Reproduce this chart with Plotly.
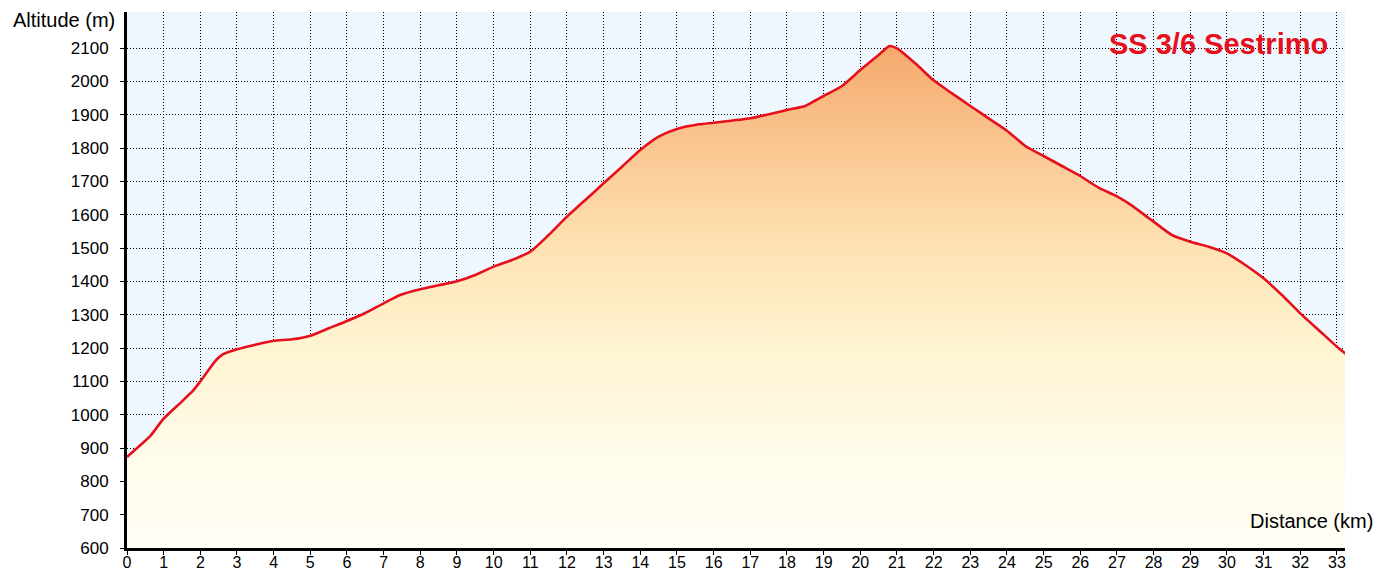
import plotly.graph_objects as go

km = [0, 0.33, 0.65, 1.0, 1.5, 1.8, 2.0, 2.2, 2.4, 2.6, 3.0, 3.5, 4.0, 4.5, 5.0, 5.5, 6.0, 6.5,
      7.0, 7.45, 8.0, 8.5, 9.0, 9.5, 10.0, 10.5, 11.0, 11.5, 12.0, 12.5, 13.0, 13.5, 14.0, 14.5,
      15.0, 15.6, 16.0, 17.0, 18.0, 18.5, 18.75, 19.0, 19.5, 20.0, 20.5, 20.8, 21.0, 21.5, 22.0,
      22.5, 23.0, 23.5, 24.0, 24.5, 25.0, 25.5, 26.0, 26.5, 27.0, 27.4, 27.8, 28.0, 28.5, 29.0,
      29.5, 30.0, 30.5, 31.0, 31.5, 32.0, 32.5, 33.0, 33.25]
altitude = [873, 905, 938, 988, 1040, 1072, 1100, 1130, 1160, 1180, 1196, 1210, 1222, 1226, 1237,
            1259, 1281, 1305, 1334, 1359, 1376, 1388, 1400, 1419, 1444, 1464, 1489, 1539, 1594,
            1644, 1694, 1744, 1794, 1834, 1857, 1871, 1876, 1889, 1914, 1926, 1941, 1956, 1986,
            2034, 2079, 2106, 2099, 2054, 2003, 1964, 1926, 1889, 1852, 1806, 1776, 1746, 1716,
            1681, 1655, 1628, 1595, 1579, 1539, 1519, 1504, 1484, 1449, 1409, 1359, 1304, 1254,
            1204, 1182]

x_ticks = list(range(0, 34))
y_ticks = list(range(600, 2101, 100))
title_text = "SS 3/6 Sestrimo"
x_title = "Distance (km)"
y_title = "Altitude (m)"

FONT = "Liberation Sans, Arial, Helvetica, sans-serif"
RED = "#e5101c"

fig = go.Figure()
fig.add_trace(go.Scatter(
    x=km, y=altitude, mode="lines",
    line=dict(color=RED, width=2.6, shape="spline", smoothing=0.6),
    fill="tozeroy",
    fillgradient=dict(
        type="vertical", start=600, stop=2110,
        colorscale=[[0.0, "rgb(255,254,246)"], [0.2, "rgb(255,251,232)"],
                    [0.4, "rgb(255,244,210)"], [0.6, "rgb(254,226,178)"],
                    [0.8, "rgb(250,198,145)"], [1.0, "rgb(245,168,108)"]]),
    hoverinfo="skip", showlegend=False,
))

axis_common = dict(
    showline=True, linecolor="black", linewidth=3, mirror=False,
    showgrid=True, gridcolor="black", gridwidth=1, griddash="1px,2px",
    ticks="outside", ticklen=4, tickcolor="black", tickwidth=1,
    tickfont=dict(family=FONT, size=17, color="black"),
    zeroline=False, fixedrange=True,
)

fig.update_xaxes(range=[0, 33.22], tickvals=x_ticks, ticktext=[str(v) for v in x_ticks],
                 **axis_common)
fig.update_xaxes(tickfont=dict(family=FONT, size=16, color="black"), ticklabelstandoff=-6)
fig.update_yaxes(range=[600, 2208], tickvals=y_ticks, ticktext=[str(v) for v in y_ticks],
                 ticklabelstandoff=8, **axis_common)

fig.update_layout(
    width=1394, height=571,
    margin=dict(l=127, r=49, t=12, b=23, autoexpand=False),
    plot_bgcolor="#eef6fe", paper_bgcolor="white",
    font=dict(family=FONT, color="black"),
    annotations=[
        dict(text=title_text, xref="paper", yref="paper", x=0.9877, y=0.94,
             xanchor="right", yanchor="middle", showarrow=False,
             font=dict(family=FONT, size=29, color=RED, weight="bold")),
        dict(text=x_title, xref="paper", yref="paper", x=1.0246, y=0.05,
             xanchor="right", yanchor="middle", showarrow=False,
             font=dict(family=FONT, size=20, color="black")),
        dict(text=y_title, xref="paper", yref="paper", x=-0.008, y=0.985,
             xanchor="right", yanchor="middle", showarrow=False,
             font=dict(family=FONT, size=20, color="black")),
    ],
)

fig.write_html("out.html", config={"displayModeBar": False},
               post_script="document.body.style.margin='0';document.body.style.overflow='hidden';")
